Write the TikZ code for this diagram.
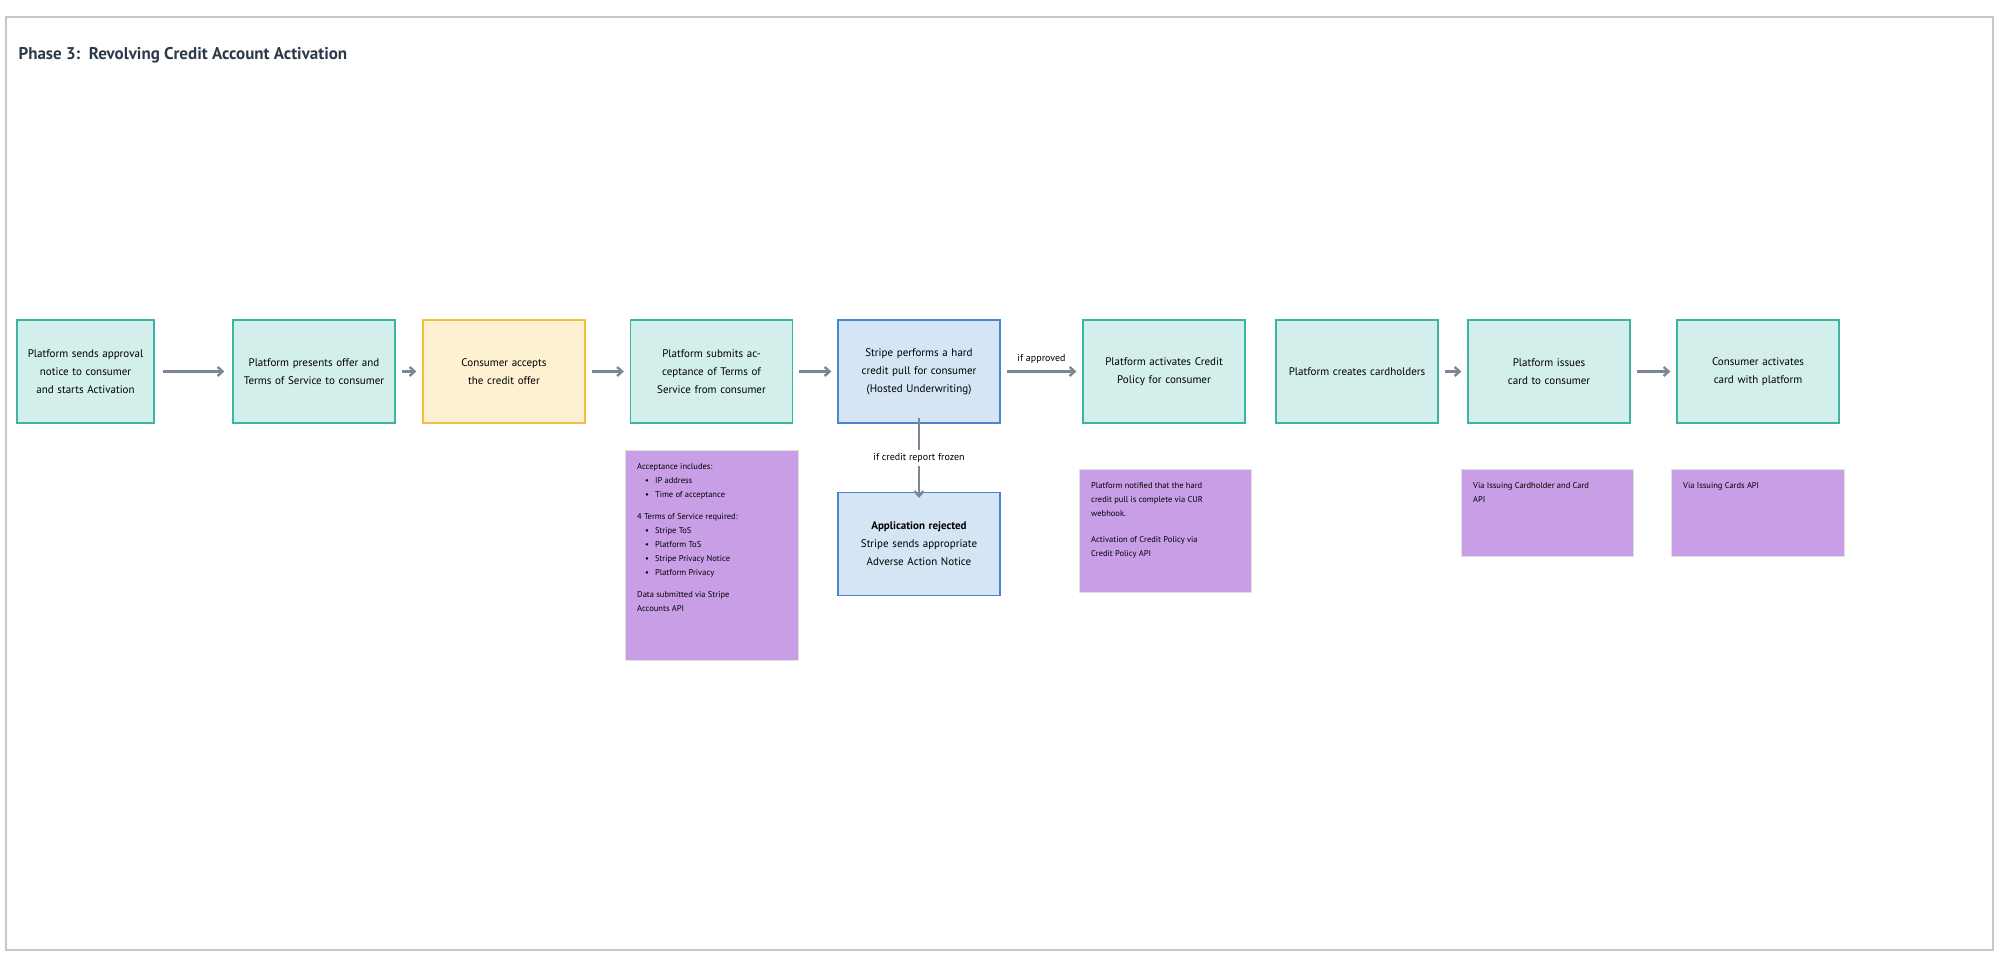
\documentclass[tikz,border=0pt]{standalone}
\usepackage{fontspec}
\setmainfont{PT Sans}
\usetikzlibrary{arrows.meta}
\definecolor{tealfill}{HTML}{D3EFEC}
\definecolor{tealline}{HTML}{3DB4A2}
\definecolor{yelfill}{HTML}{FDF1D1}
\definecolor{yelline}{HTML}{F0C044}
\definecolor{bluefill}{HTML}{D5E5F6}
\definecolor{blueline}{HTML}{4A86C8}
\definecolor{notefill}{HTML}{C89FE6}
\definecolor{arrowgray}{HTML}{7B8794}
\definecolor{titlecol}{HTML}{2B3A4A}
\tikzset{
  step/.style={draw=tealline,fill=tealfill,line width=1.2pt,minimum width=#1,minimum height=103pt,text width=142pt,align=center,font=\fontsize{11}{18}\selectfont,inner sep=0pt},
  step/.default=162pt,
  note/.style={fill=notefill,draw=black!12,line width=0.6pt,anchor=north west,align=left,font=\fontsize{8.5}{14}\selectfont,inner sep=0pt},
  flow/.style={draw=arrowgray,line width=2.4pt,-{Straight Barb[length=5pt,width=9pt]}},
  lbl/.style={font=\fontsize{10}{12}\selectfont,fill=white}
}
\begin{document}
\begin{tikzpicture}[x=1pt,y=-1pt]
\useasboundingbox (0,0) rectangle (1999,957);
% frame
\draw[black!22,line width=1.5pt] (6,17) rectangle (1993,950);
% Text Node
\node[anchor=west,text=titlecol,font=\fontsize{17}{20}\selectfont\bfseries] (title) at (15,55) {Phase 3:\ \ Revolving Credit Account Activation};

% steps
\node[step=137pt,text width=120pt] (send) at (85.5,371.5) {Platform sends approval notice to consumer and starts Activation};
\node[step] (present) at (314,371.5) {Platform presents offer and Terms of Service to consumer};
\node[step,draw=yelline,fill=yelfill] (accept) at (504,371.5) {Consumer accepts the credit offer};
\node[step] (submit) at (711.5,371.5) {Platform submits acceptance of Terms of Service from consumer};
\node[step,draw=blueline,fill=bluefill] (pull) at (919,371.5) {Stripe performs a hard credit pull for consumer (Hosted Underwriting)};
\node[step] (activate) at (1164,371.5) {Platform activates Credit Policy for consumer};
\node[step] (holders) at (1357,371.5) {Platform creates cardholders};
\node[step] (issue) at (1549,371.5) {Platform issues card to consumer};
\node[step] (cardact) at (1758,371.5) {Consumer activates card with platform};
\node[step,draw=blueline,fill=bluefill] (reject) at (919,544) {\textbf{Application rejected}\\Stripe sends appropriate Adverse Action Notice};

% connectors
\draw[flow] (send.east) ++(8,0) coordinate (s1) (s1) -- ([xshift=-8pt]present.west);
\draw[flow] ([xshift=6pt]present.east) -- ([xshift=-6pt]accept.west);
\draw[flow] ([xshift=6pt]accept.east) -- ([xshift=-6pt]submit.west);
\draw[flow] ([xshift=6pt]submit.east) -- ([xshift=-6pt]pull.west);
\draw[flow] ([xshift=6pt]pull.east) -- node[lbl,above=3pt,fill=none]{if approved} ([xshift=-6pt]activate.west);
\draw[flow] ([xshift=6pt]holders.east) -- ([xshift=-6pt]issue.west);
\draw[flow] ([xshift=6pt]issue.east) -- ([xshift=-6pt]cardact.west);
\draw[flow] ([yshift=6pt]pull.south) -- node[lbl]{if credit report frozen} ([yshift=-6pt]reject.north);

% notes
\node[note,minimum width=173pt,minimum height=210pt,text width=150pt] (n1) at (625,450) {};
\node[anchor=north west,align=left,font=\fontsize{8.5}{14}\selectfont,inner sep=0pt] (n1t) at (637,463) {Acceptance includes:\\
\hspace*{8pt}\textbullet\hspace{6pt}IP address\\
\hspace*{8pt}\textbullet\hspace{6pt}Time of acceptance\\[8pt]
4 Terms of Service required:\\
\hspace*{8pt}\textbullet\hspace{6pt}Stripe ToS\\
\hspace*{8pt}\textbullet\hspace{6pt}Platform ToS\\
\hspace*{8pt}\textbullet\hspace{6pt}Stripe Privacy Notice\\
\hspace*{8pt}\textbullet\hspace{6pt}Platform Privacy\\[8pt]
Data submitted via Stripe\\Accounts API};
\node[note,minimum width=172pt,minimum height=123pt] (n2) at (1079,469) {};
\node[anchor=north west,align=left,font=\fontsize{8.5}{14}\selectfont,inner sep=0pt] (n2t) at (1091,482) {Platform notified that the hard\\credit pull is complete via CUR\\webhook.\\[12pt]Activation of Credit Policy via\\Credit Policy API};
\node[note,minimum width=172pt,minimum height=87pt] (n3) at (1461,469) {};
\node[anchor=north west,align=left,font=\fontsize{8.5}{14}\selectfont,inner sep=0pt] (n3t) at (1473,482) {Via Issuing Cardholder and Card\\API};
\node[note,minimum width=173pt,minimum height=87pt] (n4) at (1671,469) {};
\node[anchor=north west,align=left,font=\fontsize{8.5}{14}\selectfont,inner sep=0pt] (n4t) at (1683,482) {Via Issuing Cards API};
\end{tikzpicture}
\end{document}
